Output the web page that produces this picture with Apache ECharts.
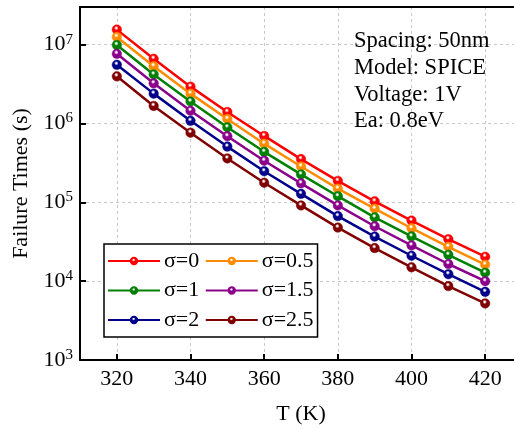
<!DOCTYPE html>
<html><head><meta charset="utf-8">
<script src="https://cdn.jsdelivr.net/npm/echarts@6/dist/echarts.min.js"></script>
<style>html,body{margin:0;padding:0;background:#fff;overflow:hidden;width:514px;height:430px}#c{width:540px;height:430px}</style>
</head><body><div id="c"></div>
<script>
const temps = [320, 330, 340, 350, 360, 370, 380, 390, 400, 410, 420];
const seriesNames = ['σ=0', 'σ=0.5', 'σ=1', 'σ=1.5', 'σ=2', 'σ=2.5'];
const sigma0   = [1.55e7, 6.61e6, 2.93e6, 1.40e6, 6.95e5, 3.53e5, 1.87e5, 1.03e5, 5.86e4, 3.41e4, 2.04e4];
const sigma05  = [1.25e7, 5.33e6, 2.39e6, 1.14e6, 5.54e5, 2.85e5, 1.49e5, 8.30e4, 4.69e4, 2.73e4, 1.62e4];
const sigma1   = [9.9e6, 4.19e6, 1.90e6, 8.94e5, 4.37e5, 2.26e5, 1.195e5, 6.45e4, 3.70e4, 2.16e4, 1.28e4];
const sigma15  = [7.64e6, 3.23e6, 1.45e6, 6.89e5, 3.37e5, 1.74e5, 9.13e4, 4.97e4, 2.84e4, 1.65e4, 1.0e4];
const sigma2   = [5.55e6, 2.39e6, 1.08e6, 5.09e5, 2.48e5, 1.28e5, 6.69e4, 3.68e4, 2.10e4, 1.225e4, 7.33e3];
const sigma25  = [3.96e6, 1.67e6, 7.64e5, 3.60e5, 1.77e5, 9.13e4, 4.78e4, 2.63e4, 1.50e4, 8.65e3, 5.22e3];
const allValues = [sigma0, sigma05, sigma1, sigma15, sigma2, sigma25];
const xTicks = [320, 340, 360, 380, 400, 420];
const annotation = ['Spacing: 50nm', 'Model: SPICE', 'Voltage: 1V', 'Ea: 0.8eV'];
const colors = ['#ff0000', '#ff8c00', '#008000', '#8b008b', '#00008b', '#800000'];

const FONT = 'Liberation Serif';
function ball(c) {
  return {type: 'radial', x: 0.45, y: 0.35, r: 0.7,
    colorStops: [{offset: 0, color: '#ffffff'}, {offset: 0.08, color: '#ffffff'}, {offset: 0.32, color: c}, {offset: 1, color: c}]};
}
const series = seriesNames.map((n, i) => ({
  name: n, type: 'line',
  data: temps.map((t, j) => [t, allValues[i][j]]),
  symbol: 'circle', symbolSize: 9.5, showSymbol: true,
  lineStyle: {color: colors[i], width: 2.5},
  itemStyle: {color: ball(colors[i]), borderColor: colors[i], borderWidth: 0.5},
  emphasis: {disabled: true}, animation: false
}));

const chart = echarts.init(document.getElementById('c'), null, {renderer: 'canvas'});
chart.setOption({
  animation: false,
  textStyle: {fontFamily: FONT},
  grid: {left: 80, top: 7, width: 442, height: 355.7, show: false, containLabel: false},
  xAxis: [{
    type: 'value', min: 310, max: 430,
    name: 'T (K)', nameLocation: 'middle', nameGap: 43,
    nameTextStyle: {fontFamily: FONT, fontSize: 22, color: '#000'},
    axisLine: {lineStyle: {color: '#000', width: 2}},
    axisTick: {inside: true, length: 6, lineStyle: {color: '#000', width: 2}, customValues: xTicks},
    axisLabel: {fontFamily: FONT, fontSize: 22, color: '#000', margin: 8, customValues: xTicks},
    splitLine: {show: true, lineStyle: {color: '#c8c8c8', width: 1, type: [3, 3]}}
  }, {
    type: 'value', position: 'top', min: 310, max: 430,
    axisLine: {show: true, onZero: false, lineStyle: {color: '#000', width: 2}},
    axisTick: {show: false}, axisLabel: {show: false}, splitLine: {show: false}
  }],
  yAxis: {
    type: 'log', logBase: 10, min: 1000, max: 3e7,
    name: 'Failure Times (s)', nameLocation: 'middle', nameGap: 37,
    nameTextStyle: {fontFamily: FONT, fontSize: 22, color: '#000'},
    axisLine: {lineStyle: {color: '#000', width: 2}},
    axisTick: {inside: true, length: 6, lineStyle: {color: '#000', width: 2}},
    axisLabel: {
      margin: 7, color: '#000', showMaxLabel: false,
      formatter: function (v) {
        const e = Math.log10(v);
        if (Math.abs(e - Math.round(e)) > 1e-6) return '';
        return '{b|10}{s|' + Math.round(e) + '}';
      },
      rich: {
        b: {fontFamily: FONT, fontSize: 22, color: '#000'},
        s: {fontFamily: FONT, fontSize: 15, color: '#000', padding: [0, 0, 10, 0]}
      }
    },
    splitLine: {show: true, lineStyle: {color: '#c8c8c8', width: 1, type: [3, 3]}}
  },
  legend: {
    data: seriesNames, left: 104, top: 244, width: 215,
    orient: 'horizontal', itemWidth: 52, itemHeight: 8, itemGap: 5.5,
    padding: [5, 4, 5, 3], borderColor: '#000', borderWidth: 1.5, backgroundColor: '#fff',
    textStyle: {fontFamily: FONT, fontSize: 22, color: '#000', lineHeight: 24, padding: [0, 0, 0, -1]},
    selectedMode: false
  },
  graphic: [{
    type: 'text', left: 354, top: 28, z: 100,
    style: {text: annotation.join('\n'), font: '22.5px "Liberation Serif"', fill: '#000', lineHeight: 26.7}
  }],
  series: series
});
</script></body></html>
